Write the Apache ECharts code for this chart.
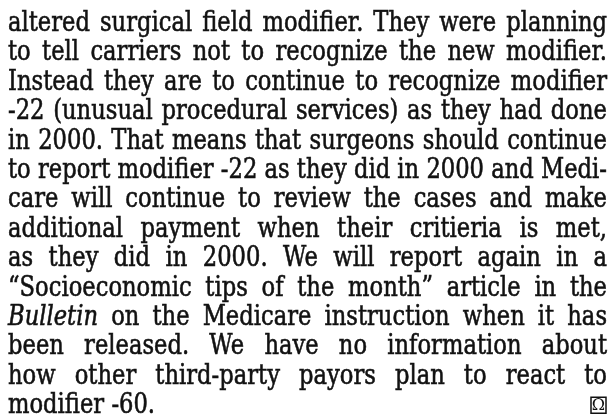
<!DOCTYPE html>
<html>
<head>
<meta charset="utf-8">
<script src="https://cdn.jsdelivr.net/npm/echarts@6/dist/echarts.min.js"></script>
<style>
  html, body { margin: 0; padding: 0; background: #fff; }
  #main { width: 613px; height: 416px; }
</style>
</head>
<body>
<div id="main"></div>
<script>
// paragraph lines as set in the source column (justified, last line ragged)
var lines = [
  "altered surgical field modifier. They were planning",
  "to tell carriers not to recognize the new modifier.",
  "Instead they are to continue to recognize modifier",
  "-22 (unusual procedural services) as they had done",
  "in 2000. That means that surgeons should continue",
  "to report modifier -22 as they did in 2000 and Medi-",
  "care will continue to review the cases and make",
  "additional payment when their critieria is met,",
  "as they did in 2000. We will report again in a",
  "\u201cSocioeconomic tips of the month\u201d article in the",
  "Bulletin on the Medicare instruction when it has",
  "been released. We have no information about",
  "how other third-party payors plan to react to",
  "modifier -60."
];
var italicWords = ["Bulletin"];
var endMark = "\u03a9";

var FONT = '"DejaVu Serif", serif';
var SIZE = 27;
var LEFT = 8, RIGHT = 607;
var BASE0 = 31, LEADING = 29.4;
var DROP = 6.5; // bottom of text box sits this far below the baseline

var ctx = document.createElement("canvas").getContext("2d");
function fontOf(italic) {
  return (italic ? "italic " : "") + SIZE + "px " + FONT;
}
function measure(w, italic) {
  ctx.font = fontOf(italic);
  return ctx.measureText(w).width;
}

var colW = RIGHT - LEFT;
var space = measure(" ", false);
var rows = lines.map(function (ln) {
  var words = ln.split(" ").map(function (w) {
    var it = italicWords.indexOf(w) >= 0;
    return { text: w, italic: it, width: measure(w, it) };
  });
  var sum = words.reduce(function (a, b) { return a + b.width; }, 0);
  return { words: words, sum: sum, natural: sum + space * (words.length - 1) };
});

// squeeze horizontally so the tightest justified line fits with plain spaces
var sx = 1;
rows.slice(0, -1).forEach(function (r) { sx = Math.min(sx, colW / r.natural); });

var graphics = [];
rows.forEach(function (r, i) {
  var last = i === rows.length - 1;
  var gap = last ? space * sx : (colW - r.sum * sx) / (r.words.length - 1);
  var x = LEFT;
  var baseline = BASE0 + i * LEADING;
  r.words.forEach(function (w) {
    graphics.push({
      type: "text",
      x: x,
      y: baseline + DROP,
      scaleX: sx,
      style: {
        text: w.text,
        font: fontOf(w.italic),
        fill: "#111",
        stroke: "#111",
        lineWidth: 0.6,
        align: "left",
        verticalAlign: "bottom"
      }
    });
    x += w.width * sx + gap;
  });
  if (last) {
    graphics.push({
      type: "rect",
      shape: { x: RIGHT - 16, y: baseline - 16, width: 15, height: 16 },
      style: { fill: "#fff", stroke: "#111", lineWidth: 1.5 }
    });
    graphics.push({
      type: "text",
      x: RIGHT - 8.5,
      y: baseline - 7.5,
      style: {
        text: endMark,
        font: "16px " + FONT,
        fill: "#111",
        align: "center",
        verticalAlign: "middle"
      }
    });
  }
});

var myChart = echarts.init(document.getElementById("main"));
var option = {
  backgroundColor: "#fff",
  animation: false,
  graphic: graphics
};
myChart.setOption(option);
</script>
</body>
</html>
